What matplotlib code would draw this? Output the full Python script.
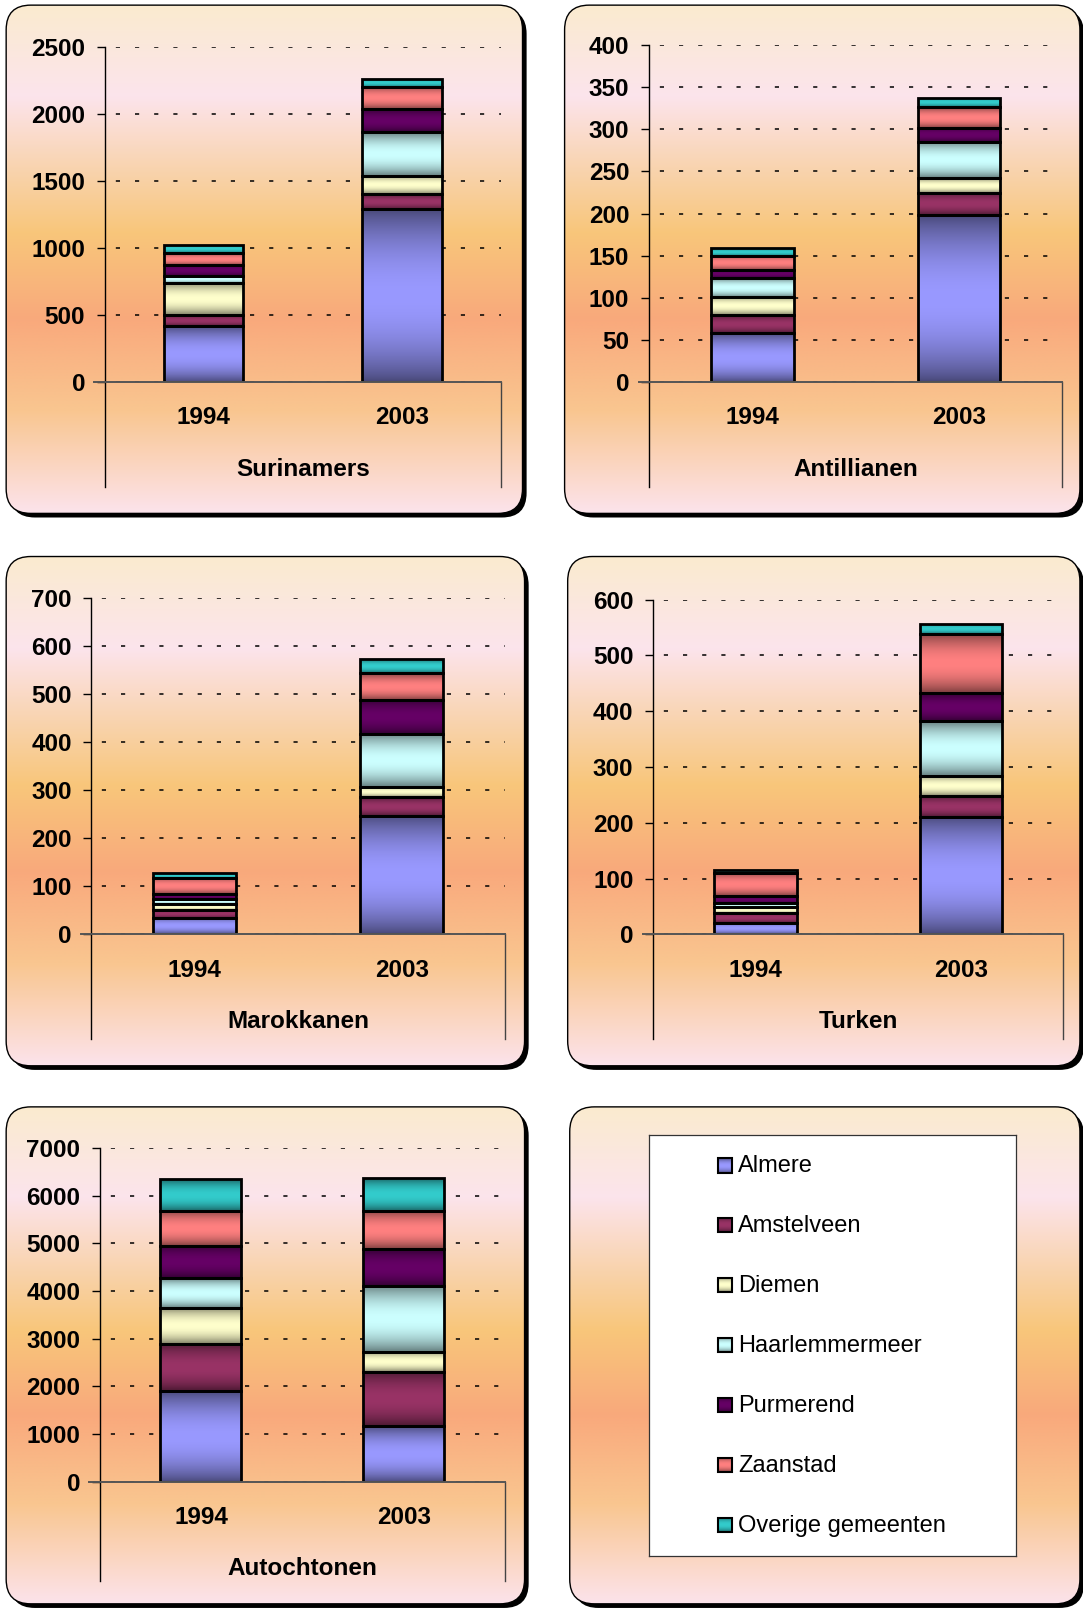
import matplotlib
matplotlib.use('Agg')
import matplotlib.pyplot as plt
import numpy as np
from matplotlib.patches import FancyBboxPatch, Rectangle
from matplotlib.colors import to_rgb

plt.rcParams['font.family'] = ['Liberation Sans', 'DejaVu Sans']
plt.rcParams['lines.scale_dashes'] = False

# Data
years = ['1994', '2003']
gemeenten = ['Almere', 'Amstelveen', 'Diemen', 'Haarlemmermeer',
             'Purmerend', 'Zaanstad', 'Overige gemeenten']
colors = ['#9999FF', '#993366', '#FFFFCC', '#CCFFFF', '#660066', '#FF8080', '#33CCCC']

# values per gemeente: [1994, 2003]
surinamers = [[418, 1289], [80, 112], [239, 137], [55, 328], [85, 169], [85, 169], [60, 60]]
antillianen = [[58, 198], [21, 27], [22, 17], [22, 43], [10, 17], [17, 24], [9, 11]]
marokkanen = [[34, 246], [17, 39], [12, 21], [10, 111], [10, 71], [34, 55], [10, 29]]
turken = [[21, 211], [18, 37], [10, 36], [7, 98], [12, 50], [42, 107], [6, 18]]
autochtonen = [[1898, 1169], [994, 1134], [756, 420], [616, 1387], [672, 770], [749, 798], [665, 686]]

groups = ['Surinamers', 'Antillianen', 'Marokkanen', 'Turken', 'Autochtonen']
group_data = [surinamers, antillianen, marokkanen, turken, autochtonen]
y_max = [2500, 400, 700, 600, 7000]
y_step = [500, 50, 100, 100, 1000]

# layout in reference pixel space
W, H = 1055, 1568
panels = [(6, 5, 509, 500), (550, 5, 1052, 500),
          (6, 542, 511, 1038), (553, 542, 1052, 1038),
          (6, 1078, 511, 1562), (555, 1078, 1052, 1562)]
# x0, x1, y_top, y_zero, y_bottom_of_category_axis
plot_boxes = [(102, 488, 46, 372, 474), (632, 1035, 44, 372, 474),
              (89, 492, 582, 910, 1012), (636, 1036, 584, 910, 1012),
              (97, 492, 1118, 1443, 1540)]

fig = plt.figure(figsize=(10.83, 16.10), dpi=100)
fig.patch.set_facecolor('white')

bg = fig.add_axes([0, 0, 1, 1], zorder=0)
bg.axis('off')

stops = [0.0, 0.18, 0.32, 0.45, 0.62, 0.80, 1.0]
stop_cols = ['#FAEBCF', '#FCE4EC', '#F9D4B0', '#F8C67A', '#F9A97C', '#F9C690', '#FCE3EB']


def vgrad(n=256):
    t = np.linspace(0, 1, n)
    rgb = np.array([to_rgb(c) for c in stop_cols])
    img = np.stack([np.interp(t, stops, rgb[:, k]) for k in range(3)], axis=-1)
    return img[:, None, :]


for (l, t, r, b) in panels:
    sh = FancyBboxPatch((l + 4, t + 4), r - l, b - t,
                        boxstyle='round,pad=0,rounding_size=24', fc='black', ec='black', lw=0)
    bg.add_patch(sh)
    box = FancyBboxPatch((l, t), r - l, b - t,
                         boxstyle='round,pad=0,rounding_size=24', fc='none', ec='black', lw=1, zorder=3)
    bg.add_patch(box)
    im = bg.imshow(vgrad(), extent=(l, r, b, t), aspect='auto', zorder=2, interpolation='bilinear')
    im.set_clip_path(box)
bg.set_xlim(0, W)
bg.set_ylim(H, 0)


def bar_shade(rgb, n=64):
    t = np.linspace(0, 1, n)
    f = 0.48 + 0.52 * np.sin(np.pi * t) ** 0.8
    img = np.clip(np.array(rgb)[None, :] * f[:, None], 0, 1)
    return img[:, None, :]


for gi, (name, data) in enumerate(zip(groups, group_data)):
    x0, x1, yt, yz, yb = plot_boxes[gi]
    ax = fig.add_axes([x0 / W, 1 - yz / H, (x1 - x0) / W, (yz - yt) / H], zorder=2)
    ax.patch.set_alpha(0)
    x = np.arange(len(years))
    bottom = np.zeros(len(years))
    for si, vals in enumerate(data):
        bars = ax.bar(x, vals, 0.4, bottom=bottom, color=colors[si],
                      edgecolor='black', linewidth=2.0, zorder=3)
        for p in bars:
            bx, by = p.get_x(), p.get_y()
            im = ax.imshow(bar_shade(to_rgb(colors[si])),
                           extent=(bx, bx + p.get_width(), by, by + p.get_height()),
                           aspect='auto', zorder=3, interpolation='bilinear')
            im.set_clip_path(p)
            p.set_facecolor('none')
            p.set_zorder(4)
        bottom = bottom + np.array(vals)

    ax.set_xlim(-0.5, 1.5)
    ax.set_ylim(0, y_max[gi])
    ax.set_yticks(np.arange(0, y_max[gi] + 1, y_step[gi]))
    ax.set_xticks([])
    ax.tick_params(axis='y', length=6, width=1, pad=8, labelsize=17.5, direction='out')
    for lab in ax.get_yticklabels():
        lab.set_fontweight('bold')
    ax.yaxis.grid(True, color='black', linewidth=1.1, linestyle=(6, (3.0, 10.8)))
    ax.set_axisbelow(True)
    for s in ['top', 'right', 'bottom', 'left']:
        ax.spines[s].set_visible(False)

    ax_h = yz - yt
    below = (yb - yz) / ax_h
    ax.plot([0, 0], [1, -below], transform=ax.transAxes, color='black', lw=1, clip_on=False, zorder=5)
    ax.plot([1, 1], [0, -below], transform=ax.transAxes, color='#444444', lw=1, clip_on=False, zorder=5)
    ax.plot([-10 / (x1 - x0), 1], [0, 0], transform=ax.transAxes, color='#555555', lw=1.4,
            clip_on=False, zorder=5)

    for xi, yr in zip(x, years):
        ax.text((xi + 0.5) / 2, -35 / ax_h, yr, transform=ax.transAxes, ha='center', va='center',
                fontsize=17.5, fontweight='bold')
    ax.text(0.5, -85 / ax_h, name, transform=ax.transAxes, ha='center', va='center',
            fontsize=17.5, fontweight='bold')

# legend panel
lx0, ly0, lx1, ly1 = 632, 1105, 990, 1515
lg = fig.add_axes([lx0 / W, 1 - ly1 / H, (lx1 - lx0) / W, (ly1 - ly0) / H], zorder=2)
lg.set_xticks([])
lg.set_yticks([])
for s in lg.spines.values():
    s.set_linewidth(0.9)
    s.set_color('#333333')
lg.patch.set_facecolor('white')
row_y = np.linspace(1135, 1485, len(gemeenten))
for yy, name, c in zip(row_y, gemeenten, colors):
    sq = Rectangle((699, yy - 7), 14, 14, fc=c, ec='black', lw=1.5, zorder=3)
    lg.add_patch(sq)
    im = lg.imshow(bar_shade(to_rgb(c)), extent=(699, 713, yy + 7, yy - 7), aspect='auto', zorder=3)
    im.set_clip_path(sq)
    sq.set_facecolor('none')
    sq.set_zorder(4)
    lg.text(719, yy + 1, name, ha='left', va='center', fontsize=17)
lg.set_xlim(lx0, lx1)
lg.set_ylim(ly1, ly0)

plt.savefig('out.png', dpi=100)
